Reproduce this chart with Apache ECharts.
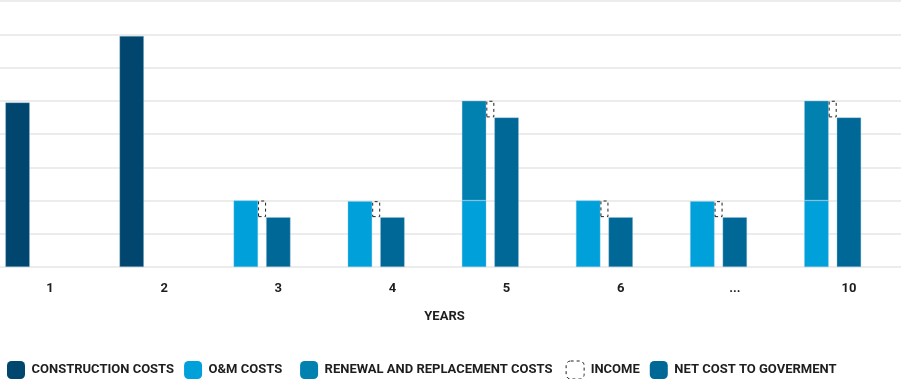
<!DOCTYPE html>
<html>
<head>
<meta charset="utf-8">
<script src="https://cdn.jsdelivr.net/npm/echarts@6/dist/echarts.min.js"></script>
<style>
html,body{margin:0;padding:0;background:#fff;}
#chart{width:901px;height:379px;}
</style>
</head>
<body>
<div id="chart"></div>
<script>
var categories = ['1', '2', '3', '4', '5', '6', '...', '10'];
var construction = [4.95, 6.95, null, null, null, null, null, null];
var omCosts = [null, null, 2, 1.98, 2, 2, 1.98, 2];
var renewal = [null, null, null, null, 3, null, null, 3];
var netCost = [null, null, 1.5, 1.5, 4.5, 1.5, 1.5, 4.5];
var income = [null, null, 0.5, 0.48, 0.5, 0.5, 0.48, 0.5];

var FONT = 'Roboto, "Noto Sans", sans-serif';
var TXT = '#1e1e1e';
var C_CON = '#00466e', C_OM = '#00a0da', C_REN = '#0081b0', C_NET = '#006896';
var edge = 'rgba(160,200,225,0.6)';

var emptySlot = categories.map(function () { return null; });

// extra spacing after some legend entries (layout only)
var legendSpacer = {'O&M COSTS': '{sa|  }', 'RENEWAL AND REPLACEMENT COSTS': '{sb| }'};

var chart = echarts.init(document.getElementById('chart'), null, {renderer: 'canvas'});
chart.setOption({
  animation: false,
  backgroundColor: '#fff',
  grid: {left: -12, right: 0, top: 1, bottom: 112, containLabel: false, outerBoundsMode: 'none'},
  legend: {
    left: 7, top: 360.5, padding: 0,
    itemWidth: 18, itemHeight: 18, itemGap: 10,
    icon: 'roundRect',
    formatter: function (name) {
      return '{t|' + name + '}' + (legendSpacer[name] || '');
    },
    textStyle: {
      fontFamily: FONT, fontWeight: 700, fontSize: 13, color: TXT,
      rich: {
        t: {fontFamily: FONT, fontWeight: 700, fontSize: 13, lineHeight: 14, color: TXT, padding: [0, 0, 0, 1.5]},
        sa: {fontFamily: FONT, fontSize: 16, lineHeight: 14},
        sb: {fontFamily: FONT, fontSize: 13, lineHeight: 14}
      }
    },
    data: [
      {name: 'CONSTRUCTION COSTS', itemStyle: {color: C_CON, borderWidth: 0}},
      {name: 'O&M COSTS', itemStyle: {color: C_OM, borderWidth: 0}},
      {name: 'RENEWAL AND REPLACEMENT COSTS', itemStyle: {color: C_REN, borderWidth: 0}},
      {name: 'INCOME', itemStyle: {color: 'rgba(0,0,0,0)', borderColor: '#222', borderWidth: 1, borderType: [3, 3]}},
      {name: 'NET COST TO GOVERMENT', itemStyle: {color: C_NET, borderWidth: 0}}
    ]
  },
  xAxis: {
    type: 'category',
    data: categories,
    axisLine: {show: false},
    axisTick: {show: false},
    axisLabel: {fontFamily: FONT, fontWeight: 700, fontSize: 13, color: TXT, margin: 15, padding: [0, 0, 0, 10]},
    name: 'YEARS',
    nameLocation: 'middle',
    nameGap: 43,
    nameTextStyle: {fontFamily: FONT, fontWeight: 700, fontSize: 13, color: TXT}
  },
  yAxis: {
    type: 'value',
    min: 0, max: 8, interval: 1,
    axisLine: {show: false},
    axisTick: {show: false},
    axisLabel: {show: false},
    splitLine: {lineStyle: {color: '#ececec', width: 2}}
  },
  series: [
    {name: 'CONSTRUCTION COSTS', type: 'bar', stack: 'a', barWidth: 24.5, barGap: '0%', data: construction,
     itemStyle: {color: C_CON, borderColor: edge, borderWidth: 0.6}},
    {name: 'O&M COSTS', type: 'bar', stack: 'a', barWidth: 24.5, data: omCosts,
     itemStyle: {color: C_OM, borderColor: 'rgba(120,200,235,0.6)', borderWidth: 0.6}},
    {name: 'RENEWAL AND REPLACEMENT COSTS', type: 'bar', stack: 'a', barWidth: 24.5, data: renewal,
     itemStyle: {color: C_REN, borderColor: edge, borderWidth: 0.6}},
    {name: 'incomeBase', type: 'bar', stack: 'b', barWidth: 8, data: netCost, silent: true,
     itemStyle: {color: 'rgba(0,0,0,0)'}},
    {name: 'INCOME', type: 'bar', stack: 'b', barWidth: 8, data: income,
     itemStyle: {color: 'rgba(0,0,0,0)', borderColor: '#222', borderWidth: 1, borderType: [3, 3]}},
    {name: 'NET COST TO GOVERMENT', type: 'bar', stack: 'c', barWidth: 24.5, barGap: '0%', data: netCost,
     itemStyle: {color: C_NET, borderColor: edge, borderWidth: 0.6}},
    {name: 'spacer', type: 'bar', stack: 'd', barWidth: 22.5, barGap: '0%', data: emptySlot, silent: true}
  ]
});
</script>
</body>
</html>
